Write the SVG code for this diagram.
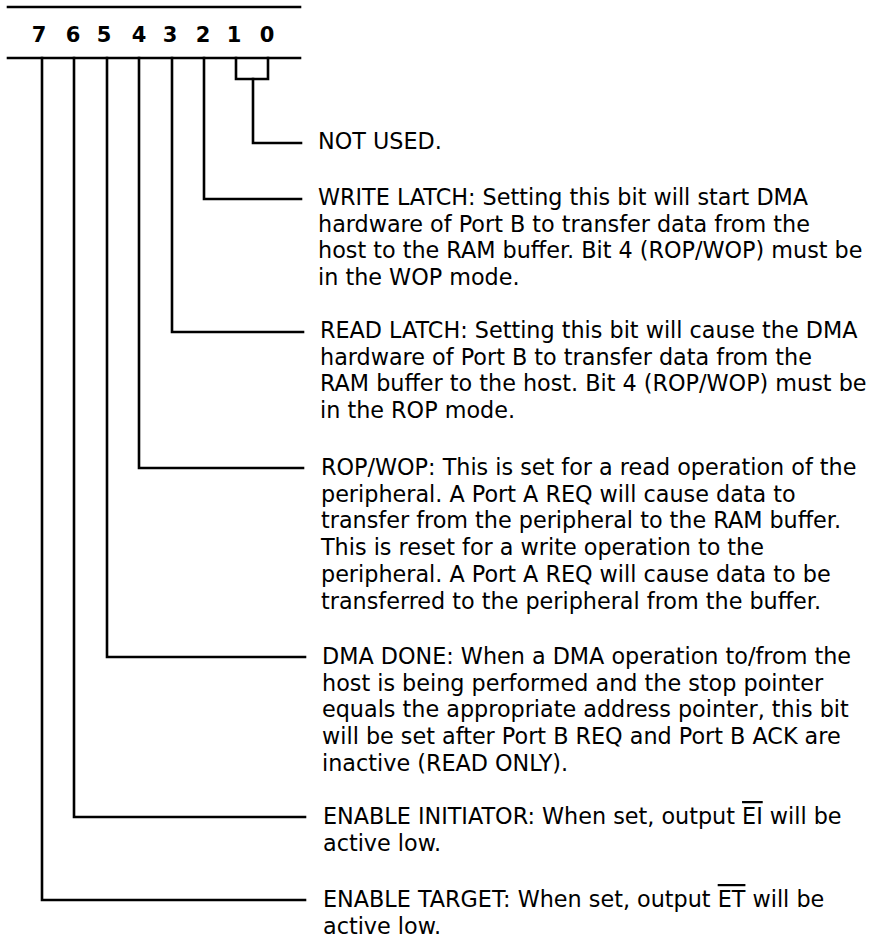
<svg xmlns="http://www.w3.org/2000/svg" width="871" height="940" viewBox="0 0 871 940">
<style>
.ln{stroke:#000;stroke-width:2.6;fill:none;stroke-linecap:square;stroke-linejoin:miter}
.t{font-family:"DejaVu Sans","Liberation Sans",sans-serif;font-size:22.3px;fill:#000}
.d{font-family:"DejaVu Sans","Liberation Sans",sans-serif;font-size:21px;font-weight:bold;fill:#000;text-anchor:middle}
.ob{text-decoration:overline}
</style>
<rect width="871" height="940" fill="#fff"/>
<g id="register">
<line class="ln" x1="8" y1="7" x2="300" y2="7"/>
<line class="ln" x1="8" y1="58" x2="300" y2="58"/>
<text class="d" x="39" y="42">7</text>
<text class="d" x="73" y="42">6</text>
<text class="d" x="104" y="42">5</text>
<text class="d" x="139" y="42">4</text>
<text class="d" x="170" y="42">3</text>
<text class="d" x="203" y="42">2</text>
<text class="d" x="234" y="42">1</text>
<text class="d" x="267" y="42">0</text>
</g>
<g id="connectors">
<path class="ln" d="M236 58 V79 H268 V58"/>
<path class="ln" d="M253 79 V143 H301"/>
<path class="ln" d="M204 58 V199 H301"/>
<path class="ln" d="M172 58 V332 H303"/>
<path class="ln" d="M139 58 V468 H303"/>
<path class="ln" d="M107 58 V657 H305"/>
<path class="ln" d="M74 58 V817 H305"/>
<path class="ln" d="M42 58 V900 H305"/>
</g>
<g id="bit0-1">
<text class="t" x="318" y="149">NOT USED.</text>
</g>
<g id="bit2">
<text class="t" x="318" y="205"><tspan x="318">WRITE LATCH: Setting this bit will start DMA</tspan><tspan x="318" dy="26.7">hardware of Port B to transfer data from the</tspan><tspan x="318" dy="26.7">host to the RAM buffer. Bit 4 (ROP/WOP) must be</tspan><tspan x="318" dy="26.7">in the WOP mode.</tspan></text>
</g>
<g id="bit3">
<text class="t" x="320" y="338"><tspan x="320">READ LATCH: Setting this bit will cause the DMA</tspan><tspan x="320" dy="26.7">hardware of Port B to transfer data from the</tspan><tspan x="320" dy="26.7">RAM buffer to the host. Bit 4 (ROP/WOP) must be</tspan><tspan x="320" dy="26.7">in the ROP mode.</tspan></text>
</g>
<g id="bit4">
<text class="t" x="321" y="475"><tspan x="321">ROP/WOP: This is set for a read operation of the</tspan><tspan x="321" dy="26.7">peripheral. A Port A REQ will cause data to</tspan><tspan x="321" dy="26.7">transfer from the peripheral to the RAM buffer.</tspan><tspan x="321" dy="26.7">This is reset for a write operation to the</tspan><tspan x="321" dy="26.7">peripheral. A Port A REQ will cause data to be</tspan><tspan x="321" dy="26.7">transferred to the peripheral from the buffer.</tspan></text>
</g>
<g id="bit5">
<text class="t" x="322" y="664"><tspan x="322">DMA DONE: When a DMA operation to/from the</tspan><tspan x="322" dy="26.7">host is being performed and the stop pointer</tspan><tspan x="322" dy="26.7">equals the appropriate address pointer, this bit</tspan><tspan x="322" dy="26.7">will be set after Port B REQ and Port B ACK are</tspan><tspan x="322" dy="26.7">inactive (READ ONLY).</tspan></text>
</g>
<g id="bit6">
<text class="t" x="323" y="824"><tspan x="323">ENABLE INITIATOR: When set, output <tspan class="ob">EI</tspan> will be</tspan><tspan x="323" dy="26.7">active low.</tspan></text>
</g>
<g id="bit7">
<text class="t" x="323" y="907"><tspan x="323">ENABLE TARGET: When set, output <tspan class="ob">ET</tspan> will be</tspan><tspan x="323" dy="26.7">active low.</tspan></text>
</g>
</svg>
